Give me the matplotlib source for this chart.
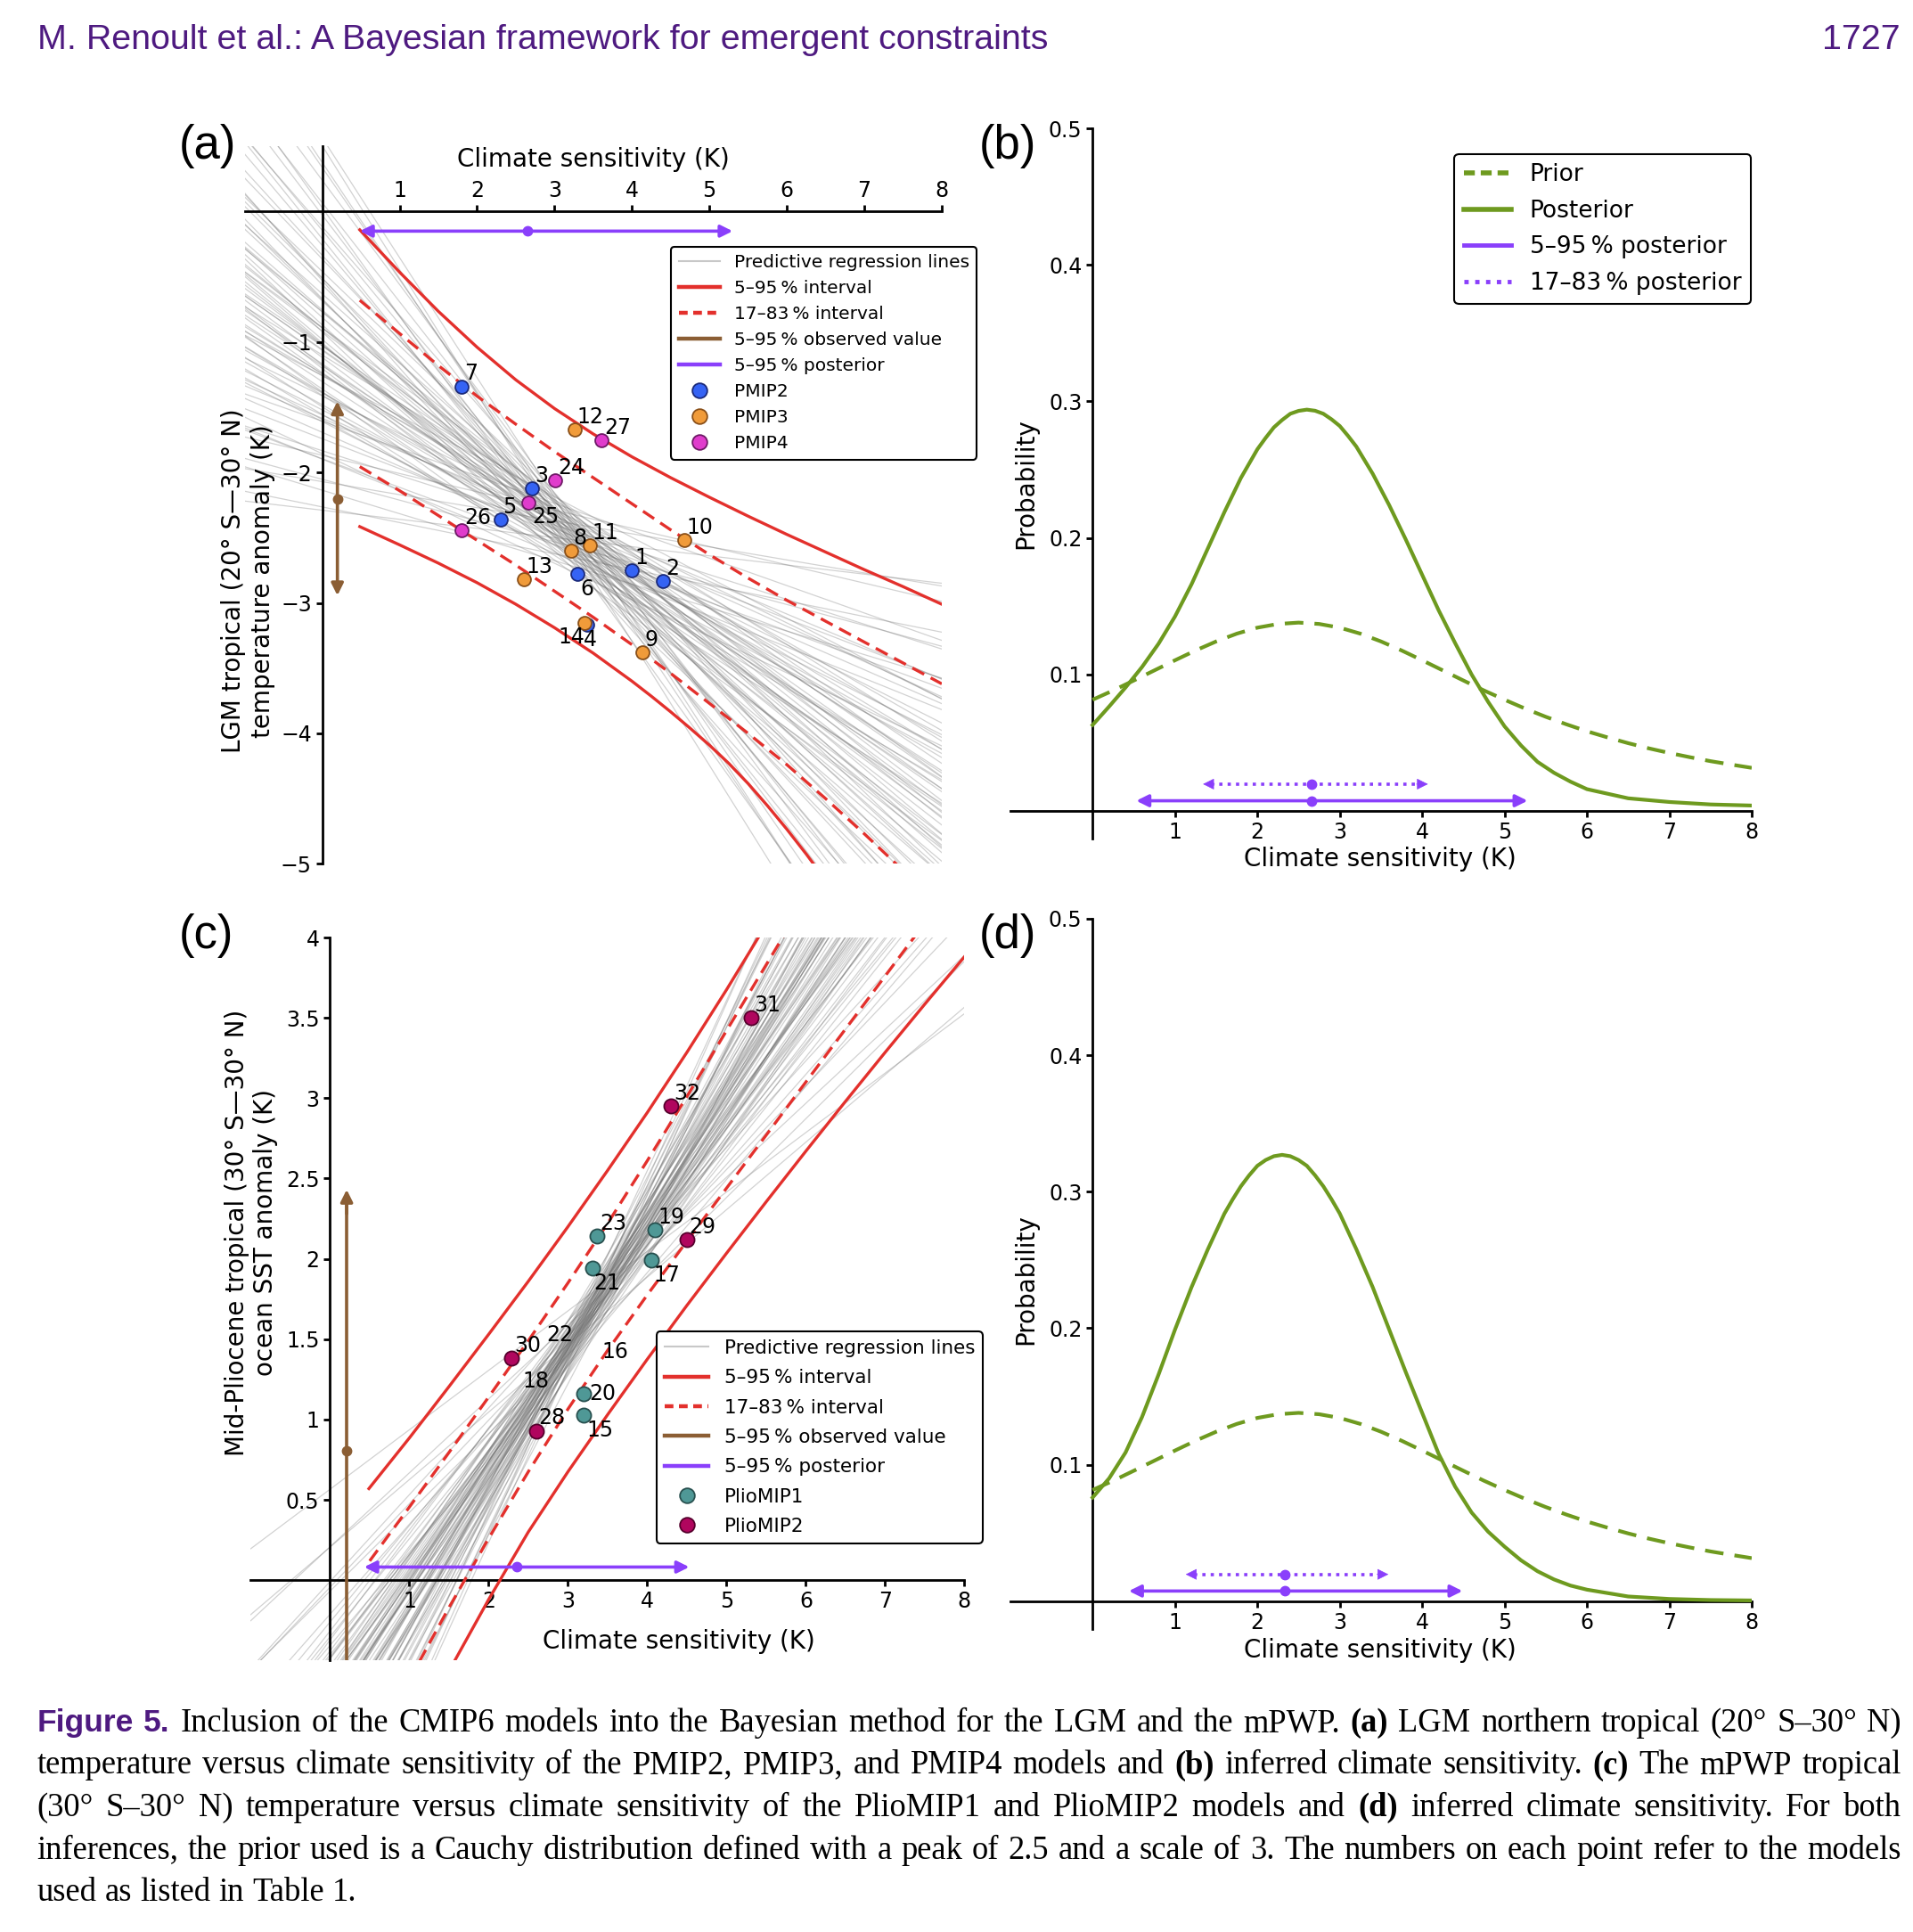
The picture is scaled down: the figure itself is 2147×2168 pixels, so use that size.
import numpy as np
import matplotlib
matplotlib.use("Agg")
import matplotlib.pyplot as plt
from matplotlib.lines import Line2D

plt.rcParams['font.family'] = ['DejaVu Sans']

W, H = 2147, 2168
fig = plt.figure(figsize=(W / 100, H / 100), dpi=100)

# ============================ DATA ============================
# ---- panel (a): LGM tropical temperature vs climate sensitivity
pmip2_id = ['1', '2', '3', '4', '5', '6', '7']
pmip2_cs = [4.00, 4.40, 2.71, 3.42, 2.30, 3.30, 1.80]
pmip2_t = [-2.75, -2.83, -2.12, -3.17, -2.36, -2.78, -1.34]
pmip3_id = ['8', '9', '10', '11', '12', '13', '14']
pmip3_cs = [3.21, 4.13, 4.67, 3.45, 3.26, 2.60, 3.39]
pmip3_t = [-2.60, -3.38, -2.52, -2.56, -1.67, -2.82, -3.15]
pmip4_id = ['24', '25', '26', '27']
pmip4_cs = [3.01, 2.66, 1.80, 3.61]
pmip4_t = [-2.06, -2.23, -2.44, -1.75]

a_cs = [0.485, 1.0, 1.5, 2.0, 2.5, 3.0, 3.5, 4.0, 4.5, 5.0, 5.5, 6.0, 6.5, 7.0, 7.5, 8.0]
a_up95 = [-0.14, -0.465, -0.765, -1.04, -1.29, -1.51, -1.705, -1.88, -2.04, -2.19, -2.335, -2.475, -2.61, -2.745, -2.875, -3.01]
a_up83 = [-0.68, -0.935, -1.18, -1.415, -1.63, -1.84, -2.04, -2.24, -2.44, -2.63, -2.81, -2.98, -3.14, -3.30, -3.46, -3.62]
a_lo83 = [-1.955, -2.14, -2.33, -2.52, -2.71, -2.91, -3.11, -3.32, -3.54, -3.77, -4.00, -4.24, -4.50, -4.77, -5.05, -5.33]
a_lo95_cs = [0.485, 1.0, 1.5, 2.0, 2.5, 3.0, 3.5, 4.0, 4.25, 4.5, 4.75, 5.0, 5.25, 5.5, 5.75,
             6.0, 6.25, 6.5, 7.0]
a_lo95 = [-2.415, -2.555, -2.695, -2.845, -3.01, -3.19, -3.385, -3.60, -3.715, -3.835, -3.96,
          -4.09, -4.23, -4.385, -4.555, -4.735, -4.925, -5.125, -5.54]

# predictive regression lines (a): slope and value at CS = 3.3 K
a_line_slope = [-0.07, -0.10, -0.12, -0.14, -0.16, -0.18, -0.19, -0.21, -0.22, -0.23,
                -0.24, -0.25, -0.26, -0.27, -0.28, -0.29, -0.30, -0.30, -0.31, -0.32,
                -0.33, -0.33, -0.34, -0.35, -0.35, -0.36, -0.37, -0.37, -0.38, -0.38,
                -0.39, -0.39, -0.40, -0.40, -0.41, -0.41, -0.42, -0.42, -0.43, -0.43,
                -0.44, -0.44, -0.45, -0.45, -0.46, -0.46, -0.47, -0.48, -0.48, -0.49,
                -0.50, -0.50, -0.51, -0.52, -0.53, -0.53, -0.54, -0.55, -0.56, -0.57,
                -0.58, -0.59, -0.60, -0.61, -0.62, -0.64, -0.65, -0.67, -0.68, -0.70,
                -0.72, -0.74, -0.76, -0.78, -0.80, -0.83, -0.86, -0.89, -0.92, -0.95]
a_line_mid = [-2.52, -2.40, -2.66, -2.33, -2.58, -2.73, -2.46, -2.30, -2.62, -2.50,
              -2.69, -2.41, -2.55, -2.45, -2.78, -2.37, -2.60, -2.51, -2.28, -2.65,
              -2.48, -2.57, -2.38, -2.71, -2.54, -2.43, -2.63, -2.32, -2.50, -2.75,
              -2.47, -2.59, -2.35, -2.68, -2.52, -2.41, -2.62, -2.45, -2.80, -2.31,
              -2.57, -2.48, -2.66, -2.40, -2.54, -2.72, -2.44, -2.60, -2.35, -2.51,
              -2.63, -2.42, -2.69, -2.47, -2.56, -2.38, -2.65, -2.50, -2.77, -2.34,
              -2.59, -2.46, -2.54, -2.68, -2.41, -2.62, -2.48, -2.74, -2.36, -2.57,
              -2.52, -2.65, -2.44, -2.60, -2.40, -2.71, -2.50, -2.56, -2.47, -2.63]
a_line_pivot = 3.3

a_obs = (-2.943, -2.204, -1.454)          # low, central, high
a_obs_x = 0.196
a_post = (0.485, 2.655, 5.30)             # 5 %, median, 95 %
a_post_y = -0.15

# ---- panel (c): mPWP tropical SST vs climate sensitivity
plio1_id = ['15', '17', '19', '20', '21', '23']
plio1_cs = [3.20, 4.05, 4.10, 3.20, 3.31, 3.37]
plio1_t = [1.03, 1.99, 2.18, 1.16, 1.94, 2.14]
plio2_id = ['28', '29', '30', '31', '32']
plio2_cs = [2.60, 4.50, 2.29, 5.31, 4.30]
plio2_t = [0.93, 2.12, 1.38, 3.50, 2.95]
plio_extra_id = ['22', '18', '16']
plio_extra_cs = [2.73, 2.43, 3.43]
plio_extra_t = [1.49, 1.20, 1.38]

c_up95_cs = [0.49, 1.0, 1.5, 2.0, 2.5, 3.0, 3.5, 4.0, 4.5, 5.0, 5.5]
c_up95 = [0.57, 0.885, 1.205, 1.53, 1.86, 2.20, 2.55, 2.91, 3.285, 3.675, 4.08]
c_up83_cs = [0.5, 1.0, 1.5, 2.0, 2.5, 3.0, 3.5, 4.0, 4.5, 5.0, 5.5, 6.0]
c_up83 = [0.12, 0.455, 0.795, 1.14, 1.49, 1.85, 2.22, 2.61, 3.01, 3.42, 3.83, 4.24]
c_lo83_cs = [1.0, 1.5, 2.0, 2.5, 3.0, 3.5, 4.0, 4.5, 5.0, 5.5, 6.0, 6.5, 7.0, 7.5]
c_lo83 = [-0.62, -0.17, 0.26, 0.675, 1.065, 1.43, 1.775, 2.11, 2.44, 2.77, 3.10, 3.43, 3.76, 4.09]
c_lo95_cs = [1.45, 2.0, 2.5, 3.0, 3.5, 4.0, 4.5, 5.0, 5.5, 6.0, 6.5, 7.0, 7.5, 8.0]
c_lo95 = [-0.61, -0.12, 0.30, 0.675, 1.03, 1.375, 1.71, 2.035, 2.355, 2.67, 2.98, 3.285, 3.585, 3.88]

c_line_slope = [0.37, 0.42, 0.46, 0.49, 0.52, 0.54, 0.56, 0.58, 0.60, 0.61,
                0.62, 0.63, 0.64, 0.65, 0.66, 0.66, 0.67, 0.68, 0.68, 0.69,
                0.70, 0.70, 0.71, 0.71, 0.72, 0.72, 0.73, 0.73, 0.74, 0.74,
                0.75, 0.75, 0.76, 0.76, 0.77, 0.77, 0.78, 0.78, 0.79, 0.79,
                0.80, 0.80, 0.81, 0.81, 0.82, 0.82, 0.83, 0.84, 0.84, 0.85,
                0.86, 0.86, 0.87, 0.88, 0.89, 0.90, 0.91, 0.92, 0.93, 0.94,
                0.95, 0.96, 0.97, 0.99, 1.00, 1.02, 1.04, 1.06, 1.08, 1.10,
                0.65, 0.70, 0.74, 0.78, 0.82, 0.88, 0.72, 0.76, 0.80, 0.69]
c_line_mid = [1.75, 1.55, 1.68, 1.50, 1.62, 1.72, 1.58, 1.45, 1.66, 1.60,
              1.52, 1.70, 1.57, 1.64, 1.48, 1.74, 1.61, 1.54, 1.69, 1.59,
              1.47, 1.65, 1.56, 1.71, 1.60, 1.51, 1.67, 1.42, 1.63, 1.76,
              1.58, 1.53, 1.68, 1.49, 1.62, 1.73, 1.55, 1.66, 1.44, 1.60,
              1.70, 1.57, 1.64, 1.50, 1.61, 1.78, 1.54, 1.67, 1.46, 1.59,
              1.63, 1.52, 1.72, 1.56, 1.65, 1.48, 1.69, 1.58, 1.62, 1.41,
              1.60, 1.74, 1.55, 1.66, 1.51, 1.64, 1.57, 1.70, 1.53, 1.61,
              1.59, 1.63, 1.56, 1.67, 1.54, 1.62, 1.58, 1.65, 1.60, 1.57]
c_line_pivot = 3.2

c_obs_x = 0.21
c_obs = (-0.6, 0.807, 2.431)
c_post = (0.43, 2.356, 4.53)
c_post_y = 0.082

# ---- panels (b) and (d): prior / posterior of climate sensitivity
prior_cs = [0, 0.25, 0.5, 0.75, 1.0, 1.25, 1.5, 1.75, 2.0, 2.25, 2.5, 2.75, 3.0, 3.25, 3.5, 3.75,
            4.0, 4.25, 4.5, 4.75, 5.0, 5.25, 5.5, 5.75, 6.0, 6.25, 6.5, 6.75, 7.0, 7.25, 7.5, 7.75, 8.0]
prior_p = [0.0815, 0.0883, 0.0956, 0.1030, 0.1104, 0.1176, 0.1242, 0.1299, 0.1343, 0.1370, 0.1380,
           0.1370, 0.1343, 0.1299, 0.1242, 0.1176, 0.1104, 0.1030, 0.0956, 0.0883, 0.0815, 0.0750,
           0.0690, 0.0635, 0.0584, 0.0539, 0.0497, 0.0459, 0.0425, 0.0394, 0.0365, 0.0340, 0.0316]

post_b_cs = [0, 0.2, 0.4, 0.6, 0.8, 1.0, 1.2, 1.4, 1.6, 1.8, 2.0, 2.1, 2.2, 2.3, 2.4, 2.5, 2.6,
             2.7, 2.8, 2.9, 3.0, 3.1, 3.2, 3.4, 3.6, 3.8, 4.0, 4.2, 4.4, 4.6, 4.8, 5.0, 5.2, 5.4,
             5.6, 5.8, 6.0, 6.5, 7.0, 7.5, 8.0]
post_b_p = [0.063, 0.0765, 0.0905, 0.1055, 0.1225, 0.1425, 0.166, 0.1925, 0.219, 0.244, 0.265,
            0.2733, 0.281, 0.2864, 0.291, 0.2931, 0.294, 0.2932, 0.291, 0.2869, 0.282, 0.2748,
            0.267, 0.247, 0.224, 0.199, 0.173, 0.147, 0.123, 0.100, 0.080, 0.062, 0.048, 0.036,
            0.028, 0.0215, 0.016, 0.0093, 0.0066, 0.0048, 0.0040]
b_int90 = (0.53, 2.66, 5.28)
b_int66 = (1.34, 2.66, 4.07)

post_d_cs = [0, 0.2, 0.4, 0.6, 0.8, 1.0, 1.2, 1.4, 1.6, 1.7, 1.8, 1.9, 2.0, 2.1, 2.2, 2.3, 2.4,
             2.5, 2.6, 2.7, 2.8, 2.9, 3.0, 3.2, 3.4, 3.6, 3.8, 4.0, 4.2, 4.4, 4.6, 4.8, 5.0, 5.2,
             5.4, 5.6, 5.8, 6.0, 6.5, 7.0, 7.5, 8.0]
post_d_p = [0.076, 0.090, 0.109, 0.135, 0.166, 0.199, 0.230, 0.258, 0.284, 0.2944, 0.304, 0.312,
            0.319, 0.3232, 0.326, 0.327, 0.326, 0.3232, 0.319, 0.312, 0.304, 0.2944, 0.284, 0.258,
            0.230, 0.199, 0.168, 0.138, 0.108, 0.084, 0.065, 0.051, 0.040, 0.030, 0.022, 0.016,
            0.0115, 0.0085, 0.0035, 0.0017, 0.0009, 0.0006]
d_int90 = (0.44, 2.335, 4.49)
d_int66 = (1.13, 2.335, 3.59)

# ============================ STYLE ============================
RED = '#e3302c'
BROWN = '#8b5e34'
PURPLE = '#8a3ffb'
GREEN = '#6e9a1f'
GRAY = (0.42, 0.42, 0.42)
HEAD = '#4e1a80'
TICK = 17
LAB = 20

pmip_style = {
    'PMIP2': dict(c='#3563f4', ec='#1b2a7a'),
    'PMIP3': dict(c='#f09b3a', ec='#8a5019'),
    'PMIP4': dict(c='#e03ccc', ec='#6e1a66'),
    'PlioMIP1': dict(c='#4f9896', ec='#28504f'),
    'PlioMIP2': dict(c='#b0065e', ec='#55002c'),
}

# label offsets (points) for special cases: (dx, dy, ha, va)
lab_off = {
    '25': (3, -3, 'left', 'top'), '6': (2, -3, 'left', 'top'),
    '14': (0, -3, 'right', 'top'), '4': (-3, -3, 'left', 'top'),
    '21': (1, -3, 'left', 'top'), '17': (2, -3, 'left', 'top'),
    '15': (2, -4, 'left', 'top'), '20': (4, 0, 'left', 'center'),
}


def style_axes(ax, xlim, ylim, xticks, yticks, ylabels=None, top=False):
    ax.set_xlim(*xlim)
    ax.set_ylim(*ylim)
    ax.spines['right'].set_visible(False)
    ax.spines['left'].set_position(('data', 0))
    if top:
        ax.spines['bottom'].set_visible(False)
        ax.spines['top'].set_position(('data', 0))
        ax.xaxis.set_ticks_position('top')
    else:
        ax.spines['top'].set_visible(False)
        ax.spines['bottom'].set_position(('data', 0))
        ax.xaxis.set_ticks_position('bottom')
    for s in ax.spines.values():
        s.set_linewidth(2.0)
    ax.set_xticks(xticks)
    ax.set_xticklabels([str(v) for v in xticks])
    ax.set_yticks(yticks)
    if ylabels is not None:
        ax.set_yticklabels(ylabels)
    ax.tick_params(labelsize=TICK, width=2, length=5, direction='out')
    ax.patch.set_visible(False)


def harrow(ax, x0, xm, x1, y, dotted=False, ms=20):
    if not dotted:
        ax.annotate('', xy=(x0, y), xytext=(x1, y),
                    arrowprops=dict(arrowstyle='<|-|>', color=PURPLE, lw=2.6,
                                    mutation_scale=ms, shrinkA=0, shrinkB=0), zorder=6)
    else:
        ax.plot([x0 + 0.1, x1 - 0.1], [y, y], color=PURPLE, lw=2.6, ls=(0, (1, 1.6)), zorder=6)
        for xa, xb in ((x0 + 0.14, x0), (x1 - 0.14, x1)):
            ax.annotate('', xy=(xb, y), xytext=(xa, y),
                        arrowprops=dict(arrowstyle='-|>', color=PURPLE, lw=0.5,
                                        mutation_scale=ms, shrinkA=0, shrinkB=0), zorder=6)
    ax.plot([xm], [y], 'o', color=PURPLE, ms=7.5, zorder=7)


def scatter_group(ax, ids, xs, ys, key, s):
    st = pmip_style[key]
    ax.scatter(xs, ys, s=s, c=st['c'], edgecolors=st['ec'], linewidths=1.3, zorder=8, label=key)
    for i, x, y in zip(ids, xs, ys):
        dx, dy, ha, va = lab_off.get(i, (2, 1.5, 'left', 'bottom'))
        ax.annotate(i, (x, y), xytext=(dx, dy), textcoords='offset points',
                    ha=ha, va=va, fontsize=17, zorder=9)


def pred_lines(ax, slopes, mids, pivot):
    xx = np.array([-1.0, 8.0])
    for m, c in zip(slopes, mids):
        ax.plot(xx, c + m * (xx - pivot), color=GRAY, alpha=0.3, lw=0.9, zorder=1)


def legend_handles(groups):
    hs = [Line2D([], [], color='#c8c8c8', lw=1.5, label='Predictive regression lines'),
          Line2D([], [], color=RED, lw=3.2, label='5–95\u2009% interval'),
          Line2D([], [], color=RED, lw=3.2, ls=(0, (2.2, 1.4)), label='17–83\u2009% interval'),
          Line2D([], [], color=BROWN, lw=3.2, label='5–95\u2009% observed value'),
          Line2D([], [], color=PURPLE, lw=3.2, label='5–95\u2009% posterior')]
    for g in groups:
        st = pmip_style[g]
        hs.append(Line2D([], [], ls='none', marker='o', ms=12, mfc=st['c'], mec=st['ec'],
                         mew=1.3, label=g))
    return hs


# ============================ PANEL A ============================
axA = fig.add_axes([274.7 / W, 1 - 969.4 / H, 782.3 / W, 805.2 / H])
style_axes(axA, (-1, 8), (-5, 0.5), list(range(1, 9)), [-1, -2, -3, -4, -5], top=True)
pred_lines(axA, a_line_slope, a_line_mid, a_line_pivot)
axA.plot(a_cs, a_up95, color=RED, lw=2.4, zorder=3)
axA.plot(a_lo95_cs, a_lo95, color=RED, lw=2.4, zorder=3)
axA.plot(a_cs, a_up83, color=RED, lw=2.4, ls=(0, (4.5, 2.5)), zorder=3)
axA.plot(a_cs, a_lo83, color=RED, lw=2.4, ls=(0, (4.5, 2.5)), zorder=3)
axA.annotate('', xy=(a_obs_x, a_obs[2]), xytext=(a_obs_x, a_obs[0]),
             arrowprops=dict(arrowstyle='<|-|>', color=BROWN, lw=2.6, mutation_scale=20,
                             shrinkA=0, shrinkB=0), zorder=6)
axA.plot([a_obs_x], [a_obs[1]], 'o', color=BROWN, ms=7.5, zorder=7)
harrow(axA, a_post[0], a_post[1], a_post[2], a_post_y)
scatter_group(axA, pmip2_id, pmip2_cs, pmip2_t, 'PMIP2', 115)
scatter_group(axA, pmip3_id, pmip3_cs, pmip3_t, 'PMIP3', 115)
scatter_group(axA, pmip4_id, pmip4_cs, pmip4_t, 'PMIP4', 115)
axA.set_xlabel('Climate sensitivity (K)', fontsize=LAB)
axA.xaxis.set_label_coords(666 / W, 1 - 179 / H, transform=fig.transFigure)
axA.xaxis.label.set_va('center')
axA.set_ylabel('LGM tropical (20° S—30° N)\ntemperature anomaly (K)', fontsize=LAB)
axA.yaxis.set_label_coords(278.5 / W, 1 - 652 / H, transform=fig.transFigure)
axA.yaxis.label.set_va('center')
axA.yaxis.label.set_ha('center')

legA = axA.legend(handles=legend_handles(['PMIP2', 'PMIP3', 'PMIP4']), loc='upper left',
                  bbox_to_anchor=(0.612, 0.860), borderaxespad=0, fontsize=14.5,
                  frameon=True, framealpha=1, edgecolor='black', handlelength=2.3,
                  labelspacing=0.5)
legA.get_frame().set_linewidth(1.5)
legA.set_zorder(10)


# ============================ PANEL B / D ============================
def prob_panel(rect, post_cs, post_p, i90, i66):
    ax = fig.add_axes(rect)
    style_axes(ax, (-1, 8), (-0.02, 0.5), list(range(1, 9)), [0.1, 0.2, 0.3, 0.4, 0.5],
               ['0.1', '0.2', '0.3', '0.4', '0.5'])
    ax.plot(prior_cs, prior_p, color=GREEN, lw=3.0, ls=(0, (5, 3)), label='Prior', zorder=3)
    ax.plot(post_cs, post_p, color=GREEN, lw=3.0, label='Posterior', zorder=3)
    harrow(ax, i90[0], i90[1], i90[2], 0.0075)
    harrow(ax, i66[0], i66[1], i66[2], 0.0197, dotted=True)
    ax.set_xlabel('Climate sensitivity (K)', fontsize=LAB)
    ax.set_ylabel('Probability', fontsize=LAB)
    hs = [Line2D([], [], color=GREEN, lw=4, ls=(0, (2.2, 1.2)), label='Prior'),
          Line2D([], [], color=GREEN, lw=4, label='Posterior'),
          Line2D([], [], color=PURPLE, lw=3.5, label='5–95\u2009% posterior'),
          Line2D([], [], color=PURPLE, lw=3.5, ls=(0, (1, 1.5)), label='17–83\u2009% posterior')]
    return ax, hs


axB, hsB = prob_panel([1133.8 / W, 1 - 940.7 / H, 832.2 / W, 796.6 / H],
                      post_b_cs, post_b_p, b_int90, b_int66)
axB.xaxis.set_label_coords(1549 / W, 1 - 964.5 / H, transform=fig.transFigure)
axB.xaxis.label.set_va('center')
axB.yaxis.set_label_coords(1151 / W, 1 - 543 / H, transform=fig.transFigure)
axB.yaxis.label.set_va('center')
legB = axB.legend(handles=hsB, loc='upper left', bbox_to_anchor=(0.599, 0.964), borderaxespad=0,
                  fontsize=19, frameon=True, framealpha=1, edgecolor='black',
                  handlelength=2.0, labelspacing=0.55)
legB.get_frame().set_linewidth(1.5)

axD, hsD = prob_panel([1133.8 / W, 1 - 1827.5 / H, 832.2 / W, 796.6 / H],
                      post_d_cs, post_d_p, d_int90, d_int66)
axD.xaxis.set_label_coords(1549 / W, 1 - 1851.8 / H, transform=fig.transFigure)
axD.xaxis.label.set_va('center')
axD.yaxis.set_label_coords(1151 / W, 1 - 1436 / H, transform=fig.transFigure)
axD.yaxis.label.set_va('center')

# ============================ PANEL C ============================
axC = fig.add_axes([281.4 / W, 1 - 1863.4 / H, 801 / W, 811.4 / H])
style_axes(axC, (-1, 8), (-0.5, 4), list(range(1, 9)),
           [0.5, 1, 1.5, 2, 2.5, 3, 3.5, 4], ['0.5', '1', '1.5', '2', '2.5', '3', '3.5', '4'])
pred_lines(axC, c_line_slope, c_line_mid, c_line_pivot)
axC.plot(c_up95_cs, c_up95, color=RED, lw=2.4, zorder=3)
axC.plot(c_lo95_cs, c_lo95, color=RED, lw=2.4, zorder=3)
axC.plot(c_up83_cs, c_up83, color=RED, lw=2.4, ls=(0, (4.5, 2.5)), zorder=3)
axC.plot(c_lo83_cs, c_lo83, color=RED, lw=2.4, ls=(0, (4.5, 2.5)), zorder=3)
axC.plot([c_obs_x, c_obs_x], [c_obs[0], c_obs[2] - 0.1], color=BROWN, lw=2.6, zorder=6)
axC.annotate('', xy=(c_obs_x, c_obs[2]), xytext=(c_obs_x, c_obs[2] - 0.15),
             arrowprops=dict(arrowstyle='-|>', color=BROWN, lw=2.6, mutation_scale=20,
                             shrinkA=0, shrinkB=0), zorder=6)
axC.plot([c_obs_x], [c_obs[1]], 'o', color=BROWN, ms=7.5, zorder=7)
harrow(axC, c_post[0], c_post[1], c_post[2], c_post_y)
scatter_group(axC, plio1_id, plio1_cs, plio1_t, 'PlioMIP1', 135)
scatter_group(axC, plio2_id, plio2_cs, plio2_t, 'PlioMIP2', 135)
for i, x, y in zip(plio_extra_id, plio_extra_cs, plio_extra_t):
    axC.text(x, y, i, fontsize=17, ha='left', va='baseline', zorder=9)
axC.set_xlabel('Climate sensitivity (K)', fontsize=LAB)
axC.xaxis.set_label_coords(761.6 / W, 1 - 1842 / H, transform=fig.transFigure)
axC.xaxis.label.set_va('center')
axC.set_ylabel('Mid-Pliocene tropical (30° S—30° N)\nocean SST anomaly (K)', fontsize=LAB)
axC.yaxis.set_label_coords(282 / W, 1 - 1383 / H, transform=fig.transFigure)
axC.yaxis.label.set_va('center')
axC.yaxis.label.set_ha('center')
legC = axC.legend(handles=legend_handles(['PlioMIP1', 'PlioMIP2']), loc='upper left',
                  bbox_to_anchor=(0.569, 0.455), borderaxespad=0, fontsize=15.5,
                  frameon=True, framealpha=1, edgecolor='black', handlelength=2.3,
                  labelspacing=0.62)
legC.get_frame().set_linewidth(1.5)
legC.set_zorder(10)

# ============================ PANEL LABELS ============================
for txt, (px, py) in {'(a)': (233, 164), '(b)': (1131, 164),
                      '(c)': (231, 1050), '(d)': (1131, 1050)}.items():
    fig.text(px / W, 1 - py / H, txt, fontsize=38, family='Liberation Sans',
             ha='center', va='center')

# ============================ HEADER ============================
fig.text(41.5 / W, 1 - 55 / H, 'M. Renoult et al.: A Bayesian framework for emergent constraints',
         fontsize=28.4, family='Liberation Sans', color=HEAD, va='baseline', ha='left')
fig.text(2133 / W, 1 - 55 / H, '1727', fontsize=28.4, family='Liberation Sans', color=HEAD,
         va='baseline', ha='right')

# ============================ CAPTION ============================
caption = [
    ("@Figure @5. Inclusion of the CMIP6 models into the Bayesian method for the LGM and the "
     "mPWP. **(a)** LGM northern tropical (20° S–30° N)", True),
    ("temperature versus climate sensitivity of the PMIP2, PMIP3, and PMIP4 models and **(b)** "
     "inferred climate sensitivity. **(c)** The mPWP tropical", True),
    ("(30° S–30° N) temperature versus climate sensitivity of the PlioMIP1 and PlioMIP2 models "
     "and **(d)** inferred climate sensitivity. For both", True),
    ("inferences, the prior used is a Cauchy distribution defined with a peak of 2.5 and a "
     "scale of 3. The numbers on each point refer to the models", True),
    ("used as listed in Table 1.", False),
]
CAP = 26.3
baselines = [1943, 1990.5, 2038, 2085.5, 2133]
renderer = fig.canvas.get_renderer()
x_left, x_right = 41.5, 2134.0
for (line, justify), yb in zip(caption, baselines):
    texts, widths = [], []
    for tok in line.split(' '):
        if tok.startswith('@'):
            props = dict(family='Liberation Sans', weight='bold', color=HEAD, fontsize=CAP - 0.8)
            s = tok[1:]
        elif tok.startswith('**'):
            props = dict(family='Liberation Serif', weight='bold', fontsize=CAP)
            s = tok.strip('*')
        else:
            props = dict(family='Liberation Serif', fontsize=CAP)
            s = tok
        t = fig.text(0, 0, s, ha='left', va='baseline', **props)
        texts.append(t)
        widths.append(t.get_window_extent(renderer).width)
    if justify:
        gap = (x_right - x_left - sum(widths)) / (len(texts) - 1)
    else:
        gap = 0.25 * CAP * 100 / 72
    x = x_left
    for t, w in zip(texts, widths):
        t.set_position((x / W, 1 - yb / H))
        x += w + gap

fig.savefig('out.png', dpi=100)
